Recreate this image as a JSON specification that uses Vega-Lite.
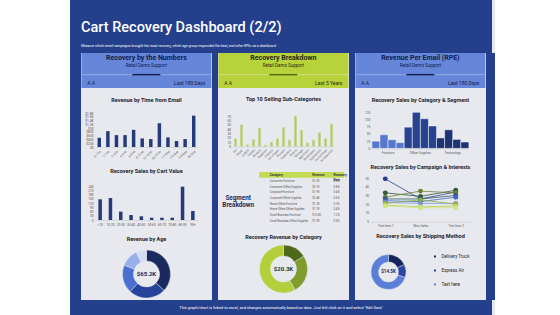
{
  "$schema": "https://vega.github.io/schema/vega-lite/v6.json",
  "background": "#e8e9ee",
  "padding": 0,
  "spacing": 0,
  "config": {
    "view": {"stroke": null},
    "font": "Roboto",
    "concat": {"spacing": 0},
    "axis": {"grid": false, "ticks": false, "tickSize": 0, "labelFont": "Roboto", "labelFontSize": 3.2, "labelColor": "#555555", "domainColor": "#c4c4c4", "domainWidth": 0.5, "labelPadding": 2},
    "axisY": {"domain": false},
    "title": {"font": "Roboto", "fontSize": 5.5, "fontWeight": "bold", "color": "#1d1d2b", "anchor": "middle"}
  },
  "resolve": {"scale": {"color": "independent"}},
  "hconcat": [
    {"width": 70, "height": 315, "view": {"fill": "#ffffff"}, "data": {"values": []}, "mark": "point", "encoding": {}},
    {
      "spacing": 0,
      "resolve": {"scale": {"color": "independent"}},
      "vconcat": [
        {
          "width": 422, "height": 53,
          "view": {"fill": "#243f8b"},
          "title": {"text": "Cart Recovery Dashboard (2/2)", "subtitle": "Measure which email campaigns brought the most recovery, which age group responded the best, and other KPIs via a dashboard", "anchor": "start", "frame": "group", "orient": "top", "offset": 0, "dx": 11, "dy": 48.5, "font": "Roboto", "fontSize": 14.5, "fontWeight": 500, "color": "#ffffff", "subtitleFont": "Roboto", "subtitleFontSize": 3.5, "subtitleFontStyle": "italic", "subtitleColor": "#ffffff", "subtitlePadding": 9},
          "data": {"values": []}, "mark": "point", "encoding": {}
        },
        {
          "spacing": 0,
          "resolve": {"scale": {"color": "independent"}},
          "hconcat": [
            {"width": 11, "height": 247, "view": {"fill": "#243f8b"}, "data": {"values": []}, "mark": "point", "encoding": {}},
            {
              "spacing": 0, "center": true,
              "resolve": {"scale": {"color": "independent"}},
              "vconcat": [
                {
                  "width": 130, "height": 35,
                  "view": {"fill": "#6686da"},
                  "data": {"values": [
                    {"role": "title", "side": "center", "text": "Recovery by the Numbers"},
                    {"role": "subtitle", "side": "center", "text": "Retail Demo Support"},
                    {"role": "line", "side": "center", "text": ""},
                    {"role": "meta", "side": "left", "text": "A    A"},
                    {"role": "meta", "side": "right", "text": "Last 180 Days"}
                  ]},
                  "encoding": {"y": {"field": "role", "type": "nominal", "scale": {"type": "point", "domain": ["title", "subtitle", "line", "meta"], "padding": 0.6}, "axis": null}},
                  "layer": [
                    {"transform": [{"filter": "datum.role === 'title'"}], "mark": {"type": "text", "fontSize": 7, "fontWeight": "bold", "color": "#101c4a"}, "encoding": {"text": {"field": "text"}}},
                    {"transform": [{"filter": "datum.role === 'subtitle'"}], "mark": {"type": "text", "fontSize": 4.5, "color": "#101c4a"}, "encoding": {"text": {"field": "text"}}},
                    {"transform": [{"filter": "datum.role === 'line'"}], "mark": {"type": "rule", "color": "#b4c3ef", "strokeWidth": 0.6}, "encoding": {}},
                    {"transform": [{"filter": "datum.role === 'line'"}], "mark": {"type": "point", "shape": "M-1,-0.05L1,-0.05L1,0.05L-1,0.05Z", "size": 784, "filled": true, "opacity": 1, "color": "#101c4a"}, "encoding": {}},
                    {"transform": [{"filter": "datum.role === 'meta' && datum.side === 'left'"}], "mark": {"type": "text", "fontSize": 5, "align": "left", "color": "#101c4a"}, "encoding": {"text": {"field": "text"}, "x": {"field": "side", "type": "nominal", "scale": {"type": "point", "domain": ["left", "right"], "padding": 0.05}, "axis": null}}},
                    {"transform": [{"filter": "datum.role === 'meta' && datum.side === 'right'"}], "mark": {"type": "text", "fontSize": 5, "align": "right", "color": "#101c4a"}, "encoding": {"text": {"field": "text"}, "x": {"field": "side", "type": "nominal", "scale": {"type": "point", "domain": ["left", "right"], "padding": 0.05}, "axis": null}}}
                  ]
                },
                {"width": 4, "height": 9.25, "data": {"values": []}, "mark": "point", "encoding": {}},
                {
                  "width": 103, "height": 34,
                  "title": {"text": "Revenue by Time from Email", "offset": 7.25},
                  "data": {"values": [
                    {"window": "0-1 Hr", "revenue": 489}, {"window": "1-2 Hr", "revenue": 839}, {"window": "2-4 Hr", "revenue": 629},
                    {"window": "4-6 Hr", "revenue": 629}, {"window": "6-8 Hr", "revenue": 909}, {"window": "8-12 Hr", "revenue": 454},
                    {"window": "12-16 Hr", "revenue": 419}, {"window": "16-24 Hr", "revenue": 1258}, {"window": "1-2 Day", "revenue": 507},
                    {"window": "2-3 Day", "revenue": 315}, {"window": "3-5 Day", "revenue": 419}, {"window": "5+ Day", "revenue": 1660}
                  ]},
                  "mark": {"type": "bar", "color": "#253a7b", "width": {"band": 0.45}},
                  "encoding": {
                    "x": {"field": "window", "type": "nominal", "sort": null, "axis": {"title": null, "labelAngle": -45}},
                    "y": {"field": "revenue", "type": "quantitative", "scale": {"domain": [0, 1800]}, "axis": {"title": null, "values": [0, 200, 400, 600, 800, 1000, 1200, 1400, 1600, 1800], "labelExpr": "datum.value >= 1000 ? '$' + format(datum.value / 1000, '.1~f') + 'K' : '$' + datum.value"}}
                  }
                },
                {"width": 4, "height": 7.3, "data": {"values": []}, "mark": "point", "encoding": {}},
                {
                  "width": 103, "height": 34,
                  "title": {"text": "Recovery Sales by Cart Value", "offset": 9.8},
                  "data": {"values": [
                    {"cart": "<10", "sales": 146}, {"cart": "10-20", "sales": 155}, {"cart": "20-30", "sales": 59}, {"cart": "30-40", "sales": 35},
                    {"cart": "40-50", "sales": 26}, {"cart": "50-60", "sales": 16}, {"cart": "60-70", "sales": 16}, {"cart": "70-80", "sales": 16},
                    {"cart": "80-90", "sales": 235}, {"cart": "90+", "sales": 64}
                  ]},
                  "mark": {"type": "bar", "color": "#253a7b", "width": {"band": 0.38}},
                  "encoding": {
                    "x": {"field": "cart", "type": "nominal", "sort": null, "axis": {"title": null, "labelAngle": 0}},
                    "y": {"field": "sales", "type": "quantitative", "scale": {"domain": [0, 240]}, "axis": {"title": null, "values": [0, 30, 60, 90, 120, 150, 180, 210, 240]}}
                  }
                },
                {"width": 4, "height": 10, "data": {"values": []}, "mark": "point", "encoding": {}},
                {
                  "width": 130, "height": 50,
                  "title": {"text": "Revenue by Age", "offset": 7},
                  "layer": [
                    {
                      "data": {"values": [
                        {"age": "18-24", "share": 37, "rank": 1}, {"age": "25-34", "share": 25, "rank": 2}, {"age": "35-44", "share": 19, "rank": 3},
                        {"age": "45-54", "share": 12, "rank": 4}, {"age": "55+", "share": 7, "rank": 5}
                      ]},
                      "mark": {"type": "arc", "innerRadius": 13, "outerRadius": 24, "stroke": "#e8e9ee", "strokeWidth": 0.4},
                      "encoding": {
                        "theta": {"field": "share", "type": "quantitative"},
                        "order": {"field": "rank"},
                        "color": {"field": "age", "type": "nominal", "scale": {"domain": ["18-24", "25-34", "35-44", "45-54", "55+"], "range": ["#1a2a5e", "#25439b", "#4a6fd0", "#97afea", "#d3dcf4"]}, "legend": null}
                      }
                    },
                    {"data": {"values": [{"label": "$65.2K"}]}, "mark": {"type": "text", "fontSize": 6, "fontWeight": "bold", "color": "#1a2a5e"}, "encoding": {"text": {"field": "label"}}}
                  ]
                }
              ]
            },
            {"width": 6, "height": 247, "view": {"fill": "#243f8b"}, "data": {"values": []}, "mark": "point", "encoding": {}},
            {
              "spacing": 0, "center": true,
              "resolve": {"scale": {"color": "independent"}},
              "vconcat": [
                {
                  "width": 130, "height": 35,
                  "view": {"fill": "#b8d23c"},
                  "data": {"values": [
                    {"role": "title", "side": "center", "text": "Recovery Breakdown"},
                    {"role": "subtitle", "side": "center", "text": "Retail Demo Support"},
                    {"role": "line", "side": "center", "text": ""},
                    {"role": "meta", "side": "left", "text": "A    A"},
                    {"role": "meta", "side": "right", "text": "Last 5 Years"}
                  ]},
                  "encoding": {"y": {"field": "role", "type": "nominal", "scale": {"type": "point", "domain": ["title", "subtitle", "line", "meta"], "padding": 0.6}, "axis": null}},
                  "layer": [
                    {"transform": [{"filter": "datum.role === 'title'"}], "mark": {"type": "text", "fontSize": 7, "fontWeight": "bold", "color": "#1f2a10"}, "encoding": {"text": {"field": "text"}}},
                    {"transform": [{"filter": "datum.role === 'subtitle'"}], "mark": {"type": "text", "fontSize": 4.5, "color": "#1f2a10"}, "encoding": {"text": {"field": "text"}}},
                    {"transform": [{"filter": "datum.role === 'line'"}], "mark": {"type": "rule", "color": "#dbe8a0", "strokeWidth": 0.6}, "encoding": {}},
                    {"transform": [{"filter": "datum.role === 'line'"}], "mark": {"type": "point", "shape": "M-1,-0.05L1,-0.05L1,0.05L-1,0.05Z", "size": 784, "filled": true, "opacity": 1, "color": "#4f6a12"}, "encoding": {}},
                    {"transform": [{"filter": "datum.role === 'meta' && datum.side === 'left'"}], "mark": {"type": "text", "fontSize": 5, "align": "left", "color": "#1f2a10"}, "encoding": {"text": {"field": "text"}, "x": {"field": "side", "type": "nominal", "scale": {"type": "point", "domain": ["left", "right"], "padding": 0.05}, "axis": null}}},
                    {"transform": [{"filter": "datum.role === 'meta' && datum.side === 'right'"}], "mark": {"type": "text", "fontSize": 5, "align": "right", "color": "#1f2a10"}, "encoding": {"text": {"field": "text"}, "x": {"field": "side", "type": "nominal", "scale": {"type": "point", "domain": ["left", "right"], "padding": 0.05}, "axis": null}}}
                  ]
                },
                {"width": 4, "height": 8.5, "data": {"values": []}, "mark": "point", "encoding": {}},
                {
                  "width": 102, "height": 30.4,
                  "title": {"text": "Top 10 Selling Sub-Categories", "offset": 11.3},
                  "data": {"values": [
                    {"sub": "Art", "sales": 18}, {"sub": "Paper", "sales": 50}, {"sub": "Labels", "sales": 4}, {"sub": "Tables", "sales": 16},
                    {"sub": "Binders", "sales": 42}, {"sub": "Supplies", "sales": 3}, {"sub": "Copiers", "sales": 10}, {"sub": "Envelopes", "sales": 18},
                    {"sub": "Phones", "sales": 44}, {"sub": "Fasteners", "sales": 15}, {"sub": "Chairs", "sales": 70}, {"sub": "Storage", "sales": 38},
                    {"sub": "Machines", "sales": 8}, {"sub": "Bookcases", "sales": 15}, {"sub": "Appliances", "sales": 32}, {"sub": "Furnishings", "sales": 18},
                    {"sub": "Accessories", "sales": 51}
                  ]},
                  "mark": {"type": "bar", "color": "#b1ca5b", "width": {"band": 0.42}},
                  "encoding": {
                    "x": {"field": "sub", "type": "nominal", "sort": null, "axis": {"title": null, "labelAngle": -45, "labelFontSize": 3}},
                    "y": {"field": "sales", "type": "quantitative", "scale": {"domain": [0, 70]}, "axis": {"title": null, "values": [0, 10, 20, 30, 40, 50, 60, 70]}}
                  }
                },
                {"width": 4, "height": 8.5, "data": {"values": []}, "mark": "point", "encoding": {}},
                {
                  "spacing": 3,
                  "resolve": {"scale": {"color": "independent"}},
                  "hconcat": [
                    {
                      "width": 36, "height": 51,
                      "data": {"values": [{"t": "Segment\nBreakdown"}]},
                      "mark": {"type": "text", "lineBreak": "\n", "fontSize": 6.3, "fontWeight": "bold", "color": "#1b2a5a", "align": "center", "lineHeight": 7.5},
                      "encoding": {"text": {"field": "t"}}
                    },
                    {
                      "width": 85, "height": 51,
                      "data": {"values": [
                        {"r": "Category", "c": "Category", "v": "Category", "head": true},
                        {"r": "Category", "c": "Revenue", "v": "Revenue", "head": true},
                        {"r": "Category", "c": "Recovery Rate", "v": "Recovery\nRate", "head": true},
                        {"r": "Consumer Furniture", "c": "Category", "v": "Consumer Furniture", "head": false},
                        {"r": "Consumer Furniture", "c": "Revenue", "v": "$2.3K", "head": false},
                        {"r": "Consumer Furniture", "c": "Recovery Rate", "v": "0.5%", "head": false},
                        {"r": "Consumer Office Supplies", "c": "Category", "v": "Consumer Office Supplies", "head": false},
                        {"r": "Consumer Office Supplies", "c": "Revenue", "v": "$5.1K", "head": false},
                        {"r": "Consumer Office Supplies", "c": "Recovery Rate", "v": "0.8%", "head": false},
                        {"r": "Corporate Furniture", "c": "Category", "v": "Corporate Furniture", "head": false},
                        {"r": "Corporate Furniture", "c": "Revenue", "v": "$1.9K", "head": false},
                        {"r": "Corporate Furniture", "c": "Recovery Rate", "v": "0.4%", "head": false},
                        {"r": "Corporate Office Supplies", "c": "Category", "v": "Corporate Office Supplies", "head": false},
                        {"r": "Corporate Office Supplies", "c": "Revenue", "v": "$3.4K", "head": false},
                        {"r": "Corporate Office Supplies", "c": "Recovery Rate", "v": "0.6%", "head": false},
                        {"r": "Home Office Furniture", "c": "Category", "v": "Home Office Furniture", "head": false},
                        {"r": "Home Office Furniture", "c": "Revenue", "v": "$1.2K", "head": false},
                        {"r": "Home Office Furniture", "c": "Recovery Rate", "v": "0.3%", "head": false},
                        {"r": "Home Office Office Supplies", "c": "Category", "v": "Home Office Office Supplies", "head": false},
                        {"r": "Home Office Office Supplies", "c": "Revenue", "v": "$1.7K", "head": false},
                        {"r": "Home Office Office Supplies", "c": "Recovery Rate", "v": "0.4%", "head": false},
                        {"r": "Small Business Furniture", "c": "Category", "v": "Small Business Furniture", "head": false},
                        {"r": "Small Business Furniture", "c": "Revenue", "v": "$10.5K", "head": false},
                        {"r": "Small Business Furniture", "c": "Recovery Rate", "v": "1.2%", "head": false},
                        {"r": "Small Business Office Supplies", "c": "Category", "v": "Small Business Office Supplies", "head": false},
                        {"r": "Small Business Office Supplies", "c": "Revenue", "v": "$1.9K", "head": false},
                        {"r": "Small Business Office Supplies", "c": "Recovery Rate", "v": "0.5%", "head": false}
                      ]},
                      "encoding": {"y": {"field": "r", "type": "nominal", "sort": null, "scale": {"paddingInner": 0, "paddingOuter": 0}, "axis": null}},
                      "layer": [
                        {"transform": [{"filter": "datum.head && datum.c === 'Category'"}], "mark": {"type": "bar", "color": "#c3da55"}, "encoding": {}},
                        {"transform": [{"filter": "datum.head"}], "mark": {"type": "text", "align": "left", "fontSize": 3.2, "fontWeight": "bold", "color": "#333333", "lineBreak": "\n"}, "encoding": {"text": {"field": "v"}, "x": {"field": "c", "type": "nominal", "scale": {"domain": ["Category", "pad", "Revenue", "Recovery Rate"], "paddingInner": 0, "paddingOuter": 0}, "bandPosition": 0.08, "axis": null}}},
                        {"transform": [{"filter": "!datum.head"}], "mark": {"type": "text", "align": "left", "fontSize": 2.8, "color": "#555555"}, "encoding": {"text": {"field": "v"}, "x": {"field": "c", "type": "nominal", "scale": {"domain": ["Category", "pad", "Revenue", "Recovery Rate"], "paddingInner": 0, "paddingOuter": 0}, "bandPosition": 0.08, "axis": null}}}
                      ]
                    }
                  ]
                },
                {"width": 4, "height": 10.5, "data": {"values": []}, "mark": "point", "encoding": {}},
                {
                  "width": 130, "height": 50,
                  "title": {"text": "Recovery Revenue by Category", "offset": 4},
                  "layer": [
                    {
                      "data": {"values": [
                        {"category": "Technology", "share": 16, "rank": 1}, {"category": "Furniture", "share": 26, "rank": 2}, {"category": "Office Supplies", "share": 58, "rank": 3}
                      ]},
                      "mark": {"type": "arc", "innerRadius": 13, "outerRadius": 24, "stroke": "#e8e9ee", "strokeWidth": 0.4},
                      "encoding": {
                        "theta": {"field": "share", "type": "quantitative"},
                        "order": {"field": "rank"},
                        "color": {"field": "category", "type": "nominal", "scale": {"domain": ["Technology", "Furniture", "Office Supplies"], "range": ["#4d6a1c", "#809c2c", "#b5cf3c"]}, "legend": null}
                      }
                    },
                    {"data": {"values": [{"label": "$20.3K"}]}, "mark": {"type": "text", "fontSize": 6, "fontWeight": "bold", "color": "#2e3a10"}, "encoding": {"text": {"field": "label"}}}
                  ]
                }
              ]
            },
            {"width": 6, "height": 247, "view": {"fill": "#243f8b"}, "data": {"values": []}, "mark": "point", "encoding": {}},
            {
              "spacing": 0, "center": true,
              "resolve": {"scale": {"color": "independent"}},
              "vconcat": [
                {
                  "width": 130, "height": 35,
                  "view": {"fill": "#6686da"},
                  "data": {"values": [
                    {"role": "title", "side": "center", "text": "Revenue Per Email (RPE)"},
                    {"role": "subtitle", "side": "center", "text": "Retail Demo Support"},
                    {"role": "line", "side": "center", "text": ""},
                    {"role": "meta", "side": "left", "text": "A    A"},
                    {"role": "meta", "side": "right", "text": "Last 180 Days"}
                  ]},
                  "encoding": {"y": {"field": "role", "type": "nominal", "scale": {"type": "point", "domain": ["title", "subtitle", "line", "meta"], "padding": 0.6}, "axis": null}},
                  "layer": [
                    {"transform": [{"filter": "datum.role === 'title'"}], "mark": {"type": "text", "fontSize": 7, "fontWeight": "bold", "color": "#101c4a"}, "encoding": {"text": {"field": "text"}}},
                    {"transform": [{"filter": "datum.role === 'subtitle'"}], "mark": {"type": "text", "fontSize": 4.5, "color": "#101c4a"}, "encoding": {"text": {"field": "text"}}},
                    {"transform": [{"filter": "datum.role === 'line'"}], "mark": {"type": "rule", "color": "#b4c3ef", "strokeWidth": 0.6}, "encoding": {}},
                    {"transform": [{"filter": "datum.role === 'line'"}], "mark": {"type": "point", "shape": "M-1,-0.05L1,-0.05L1,0.05L-1,0.05Z", "size": 784, "filled": true, "opacity": 1, "color": "#101c4a"}, "encoding": {}},
                    {"transform": [{"filter": "datum.role === 'meta' && datum.side === 'left'"}], "mark": {"type": "text", "fontSize": 5, "align": "left", "color": "#101c4a"}, "encoding": {"text": {"field": "text"}, "x": {"field": "side", "type": "nominal", "scale": {"type": "point", "domain": ["left", "right"], "padding": 0.05}, "axis": null}}},
                    {"transform": [{"filter": "datum.role === 'meta' && datum.side === 'right'"}], "mark": {"type": "text", "fontSize": 5, "align": "right", "color": "#101c4a"}, "encoding": {"text": {"field": "text"}, "x": {"field": "side", "type": "nominal", "scale": {"type": "point", "domain": ["left", "right"], "padding": 0.05}, "axis": null}}}
                  ]
                },
                {"width": 4, "height": 8.25, "data": {"values": []}, "mark": "point", "encoding": {}},
                {
                  "width": 97, "height": 36.4,
                  "title": {"text": "Recovery Sales by Category & Segment", "offset": 6.55},
                  "data": {"values": [
                    {"category": "Furniture", "segment": "Consumer", "sales": 25}, {"category": "Furniture", "segment": "Corporate", "sales": 47},
                    {"category": "Furniture", "segment": "Home Office", "sales": 30}, {"category": "Furniture", "segment": "Small Business", "sales": 20},
                    {"category": "Office Supplies", "segment": "Consumer", "sales": 73}, {"category": "Office Supplies", "segment": "Corporate", "sales": 124},
                    {"category": "Office Supplies", "segment": "Home Office", "sales": 102}, {"category": "Office Supplies", "segment": "Small Business", "sales": 77},
                    {"category": "Technology", "segment": "Consumer", "sales": 36}, {"category": "Technology", "segment": "Corporate", "sales": 64},
                    {"category": "Technology", "segment": "Home Office", "sales": 31}, {"category": "Technology", "segment": "Small Business", "sales": 22}
                  ]},
                  "mark": {"type": "bar", "stroke": "#ffffff", "strokeWidth": 0.5},
                  "encoding": {
                    "x": {"field": "category", "type": "nominal", "sort": null, "scale": {"paddingInner": 0, "paddingOuter": 0}, "axis": {"title": null, "labelAngle": 0}},
                    "xOffset": {"field": "segment", "type": "nominal", "sort": null, "scale": {"paddingInner": 0}},
                    "y": {"field": "sales", "type": "quantitative", "scale": {"domain": [0, 125]}, "axis": {"title": null, "values": [0, 25, 50, 75, 100, 125]}},
                    "color": {"field": "category", "type": "nominal", "scale": {"domain": ["Furniture", "Office Supplies", "Technology"], "range": ["#5577cc", "#27428f", "#1f3273"]}, "legend": null}
                  }
                },
                {"width": 4, "height": 9.5, "data": {"values": []}, "mark": "point", "encoding": {}},
                {
                  "width": 100, "height": 43.7,
                  "title": {"text": "Recovery Sales by Campaign & Interests", "offset": 5.75},
                  "data": {"values": [
                    {"series": "S1", "stage": "Text here 1", "value": 49}, {"series": "S1", "stage": "New Sales", "value": 26}, {"series": "S1", "stage": "Text here 2", "value": 34},
                    {"series": "S2", "stage": "Text here 1", "value": 33}, {"series": "S2", "stage": "New Sales", "value": 29}, {"series": "S2", "stage": "Text here 2", "value": 36},
                    {"series": "S3", "stage": "Text here 1", "value": 28}, {"series": "S3", "stage": "New Sales", "value": 35}, {"series": "S3", "stage": "Text here 2", "value": 33},
                    {"series": "S4", "stage": "Text here 1", "value": 26}, {"series": "S4", "stage": "New Sales", "value": 26}, {"series": "S4", "stage": "Text here 2", "value": 30},
                    {"series": "S5", "stage": "Text here 1", "value": 24}, {"series": "S5", "stage": "New Sales", "value": 23}, {"series": "S5", "stage": "Text here 2", "value": 28},
                    {"series": "S6", "stage": "Text here 1", "value": 22}, {"series": "S6", "stage": "New Sales", "value": 21}, {"series": "S6", "stage": "Text here 2", "value": 21},
                    {"series": "S7", "stage": "Text here 1", "value": 21}, {"series": "S7", "stage": "New Sales", "value": 25}, {"series": "S7", "stage": "Text here 2", "value": 20},
                    {"series": "S8", "stage": "Text here 1", "value": 19}, {"series": "S8", "stage": "New Sales", "value": 17}, {"series": "S8", "stage": "Text here 2", "value": 18},
                    {"series": "S9", "stage": "Text here 1", "value": 18}, {"series": "S9", "stage": "New Sales", "value": 16}, {"series": "S9", "stage": "Text here 2", "value": 16}
                  ]},
                  "encoding": {
                    "x": {"field": "stage", "type": "nominal", "sort": ["Text here 1", "New Sales", "Text here 2"], "scale": {"type": "point", "padding": 0.42}, "axis": {"title": null, "labelAngle": 0}},
                    "y": {"field": "value", "type": "quantitative", "scale": {"domain": [0, 50]}, "axis": {"title": null, "values": [0, 10, 20, 30, 40, 50]}},
                    "color": {"field": "series", "type": "nominal", "scale": {"domain": ["S1", "S2", "S3", "S4", "S5", "S6", "S7", "S8", "S9"], "range": ["#2b3f8e", "#2f5a3c", "#6e8038", "#2d5c66", "#4066c4", "#7b95dd", "#8fb043", "#b3d34e", "#d0e37f"]}, "legend": null}
                  },
                  "layer": [
                    {"mark": {"type": "line", "strokeWidth": 0.8}, "encoding": {}},
                    {"mark": {"type": "point", "filled": true, "size": 24, "opacity": 1}, "encoding": {}}
                  ]
                },
                {"width": 4, "height": 5.5, "data": {"values": []}, "mark": "point", "encoding": {}},
                {
                  "width": 50, "height": 50,
                  "title": {"text": "Recovery Sales by Shipping Method", "offset": 7.75, "frame": "bounds"},
                  "layer": [
                    {
                      "data": {"values": [
                        {"method": "Delivery Truck", "share": 18, "rank": 1}, {"method": "Express Air", "share": 12, "rank": 2}, {"method": "Text here", "share": 70, "rank": 3}
                      ]},
                      "mark": {"type": "arc", "innerRadius": 10, "outerRadius": 17.5, "stroke": "#e8e9ee", "strokeWidth": 0.4},
                      "encoding": {
                        "theta": {"field": "share", "type": "quantitative"},
                        "order": {"field": "rank"},
                        "color": {"field": "method", "type": "nominal", "scale": {"domain": ["Delivery Truck", "Express Air", "Text here"], "range": ["#15245a", "#2a46a0", "#5b7fd8"]}, "legend": {"title": null, "orient": "right", "symbolType": "square", "symbolSize": 12, "labelFontSize": 4.5, "labelFont": "Roboto", "labelColor": "#222222", "rowPadding": 3, "padding": 7, "offset": 12}}
                      }
                    },
                    {"data": {"values": [{"label": "$14.5K"}]}, "mark": {"type": "text", "fontSize": 4.5, "fontWeight": "bold", "color": "#15245a"}, "encoding": {"text": {"field": "label"}}}
                  ]
                }
              ]
            },
            {"width": 9, "height": 247, "view": {"fill": "#243f8b"}, "data": {"values": []}, "mark": "point", "encoding": {}}
          ]
        },
        {
          "width": 422, "height": 15,
          "view": {"fill": "#243f8b"},
          "data": {"values": [{"t": "This graph/chart is linked to excel, and changes automatically based on data. Just left click on it and select \"Edit Data\""}]},
          "mark": {"type": "text", "color": "#ffffff", "fontSize": 3.9},
          "encoding": {"text": {"field": "t"}}
        }
      ]
    },
    {"width": 68, "height": 315, "view": {"fill": "#ffffff"}, "data": {"values": []}, "mark": "point", "encoding": {}}
  ]
}
